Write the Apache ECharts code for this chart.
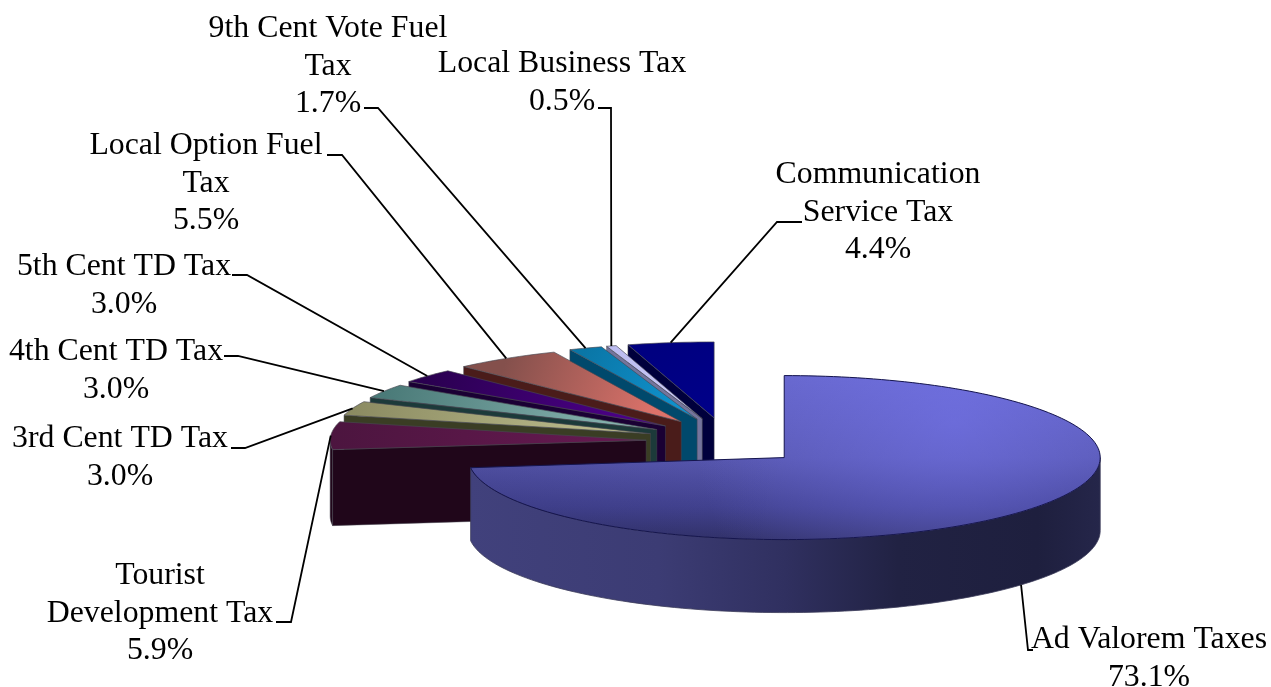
<!DOCTYPE html>
<html>
<head>
<meta charset="utf-8">
<style>html,body{margin:0;padding:0;background:#fff}#chart{width:1271px;height:687px}</style>
<script src="https://cdn.jsdelivr.net/npm/echarts@6/dist/echarts.min.js"></script>
</head>
<body>
<div id="chart"></div>
<script>
// Revenue shares, clockwise from twelve o'clock.
const categories = [
  'Ad Valorem Taxes', 'Tourist\nDevelopment Tax', '3rd Cent TD Tax', '4th Cent TD Tax',
  '5th Cent TD Tax', 'Local Option Fuel\nTax', '9th Cent Vote Fuel\nTax',
  'Local Business Tax', 'Communication\nService Tax'
];
const shares = [73.1, 5.9, 3.0, 3.0, 3.0, 5.5, 1.7, 0.5, 4.4];

// Slice colours: top surface from rim to centre, then the darker side colour.
const rimColors = ['#4c4c9c', '#4c153f', '#8b8b62', '#4a7a78', '#2a0050', '#84504c', '#0a76a6', '#bcbcf0', '#000080'];
const hubColors = ['#6a6ad0', '#64194f', '#bcbc8c', '#86b2ae', '#4c0088', '#dc726a', '#1092ce', '#c8c8f6', '#000088'];
const sideColors = ['#2f2f66', '#20061a', '#3a3d24', '#1c3a3a', '#1a0034', '#4a1c1a', '#00496c', '#74749c', '#00003c'];

// Projection of the exploded pie.
const centre = { x: 725, y: 441.7 };
const explode = { x: 79, y: 24 };
const radiusX = 316;
const radiusY = [82, 76, 76, 76, 76, 76, 76, 76, 76];
const depth = [73, 76, 76, 76, 76, 76, 76, 76, 76];

// Label block centre, first-line baseline centre and leader bends for each slice.
const labelBoxes = [
  { x: 1149, y: 640, bend: [[1028, 650], [1033, 650]] },
  { x: 160, y: 576, bend: [[291, 622], [276, 622]] },
  { x: 120, y: 439, bend: [[245, 448], [231, 448]] },
  { x: 116, y: 352, bend: [[238, 356], [224, 356]] },
  { x: 124, y: 267, bend: [[247, 275], [232, 275]] },
  { x: 206, y: 146, bend: [[342, 155], [327, 155]] },
  { x: 328, y: 29, bend: [[378, 108], [364, 108]] },
  { x: 562, y: 64, bend: [[611, 108], [598, 108]] },
  { x: 878, y: 175, bend: [[777, 222], [802, 222]] }
];
const labelFont = { size: 31.8, lineHeight: 37.3, family: '"Liberation Serif", "Times New Roman", serif' };

const total = shares.reduce((a, b) => a + b, 0);
const DEG = Math.PI / 180;
const spans = [];
shares.reduce((start, v) => {
  const end = start + v / total * 360;
  spans.push([start, end]);
  return end;
}, 0);

function apexOf(i) {
  const mid = (spans[i][0] + spans[i][1]) / 2 * DEG;
  return [centre.x + explode.x * Math.sin(mid), centre.y - explode.y * Math.cos(mid)];
}
function rimPoint(i, deg, drop) {
  const a = apexOf(i);
  return [a[0] + radiusX * Math.sin(deg * DEG), a[1] - radiusY[i] * Math.cos(deg * DEG) + (drop || 0)];
}
function arc(i, from, to, drop) {
  const n = Math.max(2, Math.ceil(Math.abs(to - from) / 1.5));
  const pts = [];
  for (let k = 0; k <= n; k++) pts.push(rimPoint(i, from + (to - from) * k / n, drop));
  return pts;
}
function linear(x, y, x2, y2, stops) {
  return {
    type: 'linear', global: true, x, y, x2, y2,
    colorStops: stops.map(s => ({ offset: s[0], color: s[1] }))
  };
}

function drawSlice(i) {
  const kids = [];
  const a = apexOf(i);
  const [start, end] = spans[i];
  const d = depth[i];
  const edge = i === 0 ? '#15154e' : 'rgba(70,70,80,0.65)';

  // Side facing the viewer along the starting radius (only fan slices show it).
  if (i > 0) {
    const rim = rimPoint(i, start);
    kids.push({
      type: 'polygon',
      shape: { points: [a, rim, [rim[0], rim[1] + d], [a[0], a[1] + d]] },
      style: { fill: sideColors[i], stroke: 'rgba(70,70,80,0.5)', lineWidth: 1 }
    });
  }

  // Outer wall: the part of the rim on the near half of the ellipse.
  const wallFrom = Math.max(start, 90);
  const wallTo = Math.min(end, 270);
  if (wallTo > wallFrom) {
    const pts = arc(i, wallFrom, wallTo, 0).concat(arc(i, wallTo, wallFrom, d));
    const fill = i === 0
      ? linear(a[0] - radiusX, 0, a[0] + radiusX, 0, [
          [0, '#41417c'], [0.3, '#3c3c74'], [0.5, '#303060'], [0.68, '#212243'], [0.9, '#1e1f3e'], [1, '#25264a']
        ])
      : sideColors[i];
    kids.push({ type: 'polygon', shape: { points: pts }, style: { fill, stroke: i === 0 ? 'rgba(60,60,90,0.8)' : 'rgba(70,70,80,0.5)', lineWidth: 1 } });
  }

  // Top surface.
  const top = [a].concat(arc(i, start, end, 0));
  if (i === 0) {
    kids.push({
      type: 'polygon', shape: { points: top },
      style: {
        fill: linear(0, a[1] - radiusY[0], 0, a[1] + radiusY[0], [
          [0, '#6565c8'], [0.5, '#5858b0'], [0.8, '#424290'], [1, '#32326a']
        ])
      }
    });
    kids.push({
      type: 'polygon', shape: { points: top },
      style: {
        fill: {
          type: 'radial', global: true, x: a[0] + 170, y: a[1] - 35, r: 260,
          colorStops: [{ offset: 0, color: 'rgba(125,125,255,0.45)' }, { offset: 1, color: 'rgba(125,125,255,0)' }]
        }
      }
    });
    kids.push({
      type: 'polygon', shape: { points: top },
      style: {
        fill: linear(a[0] - radiusX, 0, a[0], 0, [[0, 'rgba(25,25,70,0.12)'], [1, 'rgba(25,25,70,0)']]),
        stroke: edge, lineWidth: 1
      }
    });
  } else {
    const mid = (start + end) / 2;
    const rim = rimPoint(i, mid);
    kids.push({
      type: 'polygon', shape: { points: top },
      style: {
        fill: linear(rim[0], rim[1], a[0], a[1], [[0, rimColors[i]], [0.85, hubColors[i]], [1, hubColors[i]]]),
        stroke: edge, lineWidth: 1
      }
    });
  }
  return { type: 'group', children: kids };
}

function drawLabel(i) {
  const box = labelBoxes[i];
  const mid = (spans[i][0] + spans[i][1]) / 2;
  const anchor = rimPoint(i, mid, i === 0 ? depth[0] : 0);
  const lines = categories[i].split('\n').concat(shares[i].toFixed(1) + '%');
  const kids = [{
    type: 'polyline',
    shape: { points: [anchor].concat(box.bend) },
    style: { fill: 'none', stroke: '#000', lineWidth: 1.8 }
  }];
  lines.forEach((t, k) => kids.push({
    type: 'text',
    style: {
      text: t, x: box.x, y: box.y + k * labelFont.lineHeight,
      align: 'center', verticalAlign: 'middle', fill: '#000',
      font: labelFont.size + 'px ' + labelFont.family
    }
  }));
  return { type: 'group', children: kids };
}

// Far slices are painted first so nearer ones overlap them.
const paintOrder = shares.map((_, i) => i).filter(i => i > 0).reverse().concat(0);

const chart = echarts.init(document.getElementById('chart'), null, { renderer: 'canvas' });
chart.setOption({
  animation: false,
  backgroundColor: '#fff',
  series: [
    {
      type: 'custom', coordinateSystem: 'none', silent: true, z: 1,
      data: paintOrder.map(i => [i, shares[i]]),
      renderItem: (params, api) => drawSlice(api.value(0))
    },
    {
      type: 'custom', coordinateSystem: 'none', silent: true, z: 2,
      data: shares.map((v, i) => [i, v]),
      renderItem: (params, api) => drawLabel(api.value(0))
    }
  ]
});
</script>
</body>
</html>
